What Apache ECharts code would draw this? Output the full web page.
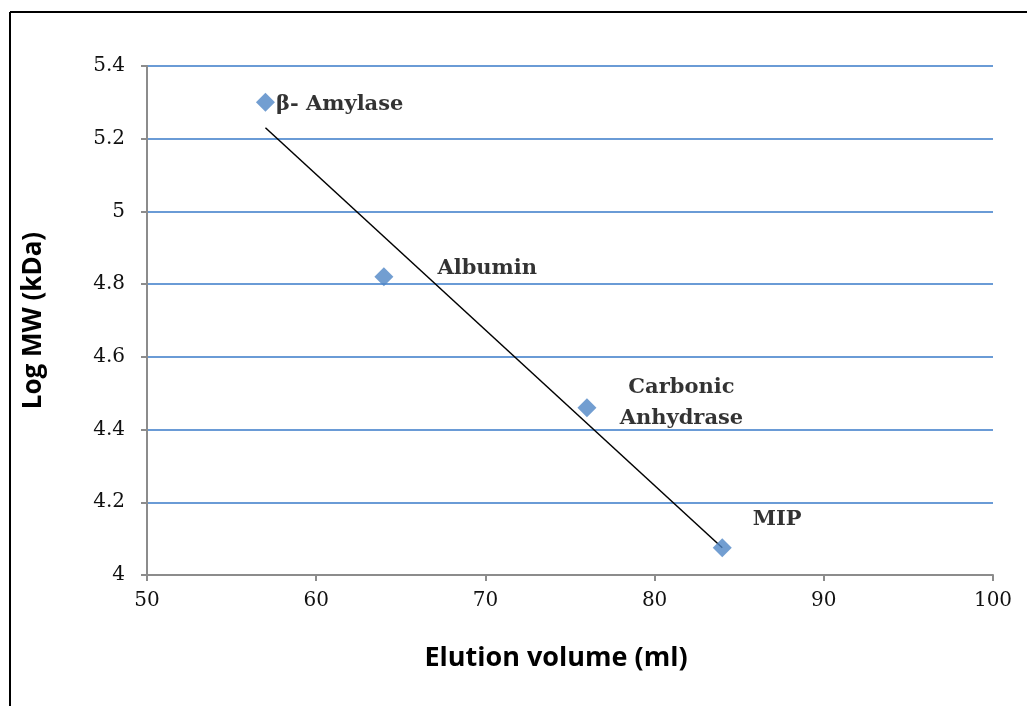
<!DOCTYPE html>
<html>
<head>
<meta charset="utf-8">
<script src="https://cdn.jsdelivr.net/npm/echarts@6/dist/echarts.min.js"></script>
<style>
  html, body { margin: 0; padding: 0; background: #fff; }
  #chart { width: 1027px; height: 706px; }
</style>
</head>
<body>
<div id="chart"></div>
<script>
// standards: elution volume (ml) vs log MW (kDa)
var proteins = ['β- Amylase', 'Albumin', 'Carbonic\nAnhydrase', 'MIP'];
var elutionVolume = [57, 64, 76, 84];
var logMW = [5.30, 4.82, 4.46, 4.075];
// fitted line at its two ends
var fitX = [57, 84];
var fitY = [5.23, 4.075];
var xTicks = [50, 60, 70, 80, 90, 100];
var yTicks = [4, 4.2, 4.4, 4.6, 4.8, 5, 5.2, 5.4];

// label placement for each protein (pixels from the marker)
var labelOffsets = [[-4, 2], [39, -8], [80, -5], [16, -28]];
var labelAlign = ['left', 'left', 'center', 'left'];

var myChart = echarts.init(document.getElementById('chart'));

var scatterData = proteins.map(function(name, i) {
  return {
    name: name,
    value: [elutionVolume[i], logMW[i]],
    label: {
      show: true,
      position: 'right',
      offset: labelOffsets[i],
      align: labelAlign[i],
      color: '#000'
    }
  };
});

var option = {
  animation: false,
  grid: { left: 147, right: 34, top: 66, bottom: 131 },
  graphic: [
    { type: 'line', shape: { x1: 10, y1: 12, x2: 1027, y2: 12 }, style: { stroke: '#000', lineWidth: 2 } },
    { type: 'line', shape: { x1: 10, y1: 12, x2: 10, y2: 706 }, style: { stroke: '#000', lineWidth: 2 } }
  ],
  xAxis: {
    type: 'value',
    min: xTicks[0],
    max: xTicks[xTicks.length - 1],
    interval: 10,
    name: 'Elution volume (ml)',
    nameLocation: 'middle',
    nameGap: 70,
    nameTextStyle: { fontFamily: 'Open Sans', fontWeight: 'bold', fontSize: 27, color: '#000', padding: [0, 28, 0, 0] },
    axisLine: { show: true, lineStyle: { color: '#8c8c8c', width: 2 } },
    axisTick: { show: true, length: 6, lineStyle: { color: '#8c8c8c', width: 2 } },
    axisLabel: { margin: 16, fontFamily: 'DejaVu Serif', fontSize: 20, color: '#111' },
    splitLine: { show: false }
  },
  yAxis: {
    type: 'value',
    min: yTicks[0],
    max: yTicks[yTicks.length - 1],
    interval: 0.2,
    name: 'Log MW (kDa)',
    nameLocation: 'middle',
    nameGap: 100,
    nameRotate: 90,
    nameTextStyle: { fontFamily: 'Open Sans', fontWeight: 'bold', fontSize: 26, color: '#000' },
    axisLine: { show: true, lineStyle: { color: '#8c8c8c', width: 2 } },
    axisTick: { show: true, length: 6, lineStyle: { color: '#8c8c8c', width: 2 } },
    axisLabel: { margin: 22, fontFamily: 'DejaVu Serif', fontSize: 20, color: '#111' },
    splitLine: { show: true, lineStyle: { color: '#6a9bd6', width: 2 } }
  },
  series: [
    {
      name: 'fit',
      type: 'line',
      data: fitX.map(function(x, i) { return [x, fitY[i]]; }),
      symbol: 'none',
      lineStyle: { color: '#000', width: 1.5 },
      z: 3
    },
    {
      name: 'standards',
      type: 'scatter',
      data: scatterData,
      symbol: 'diamond',
      symbolSize: [19, 19],
      itemStyle: { color: '#4f86c6' },
      label: {
        formatter: '{b}',
        fontFamily: 'DejaVu Serif',
        fontWeight: 'bold',
        fontSize: 21,
        lineHeight: 31,
        color: '#000',
        textBorderWidth: 0
      },
      z: 4
    }
  ]
};

myChart.setOption(option);
</script>
</body>
</html>
